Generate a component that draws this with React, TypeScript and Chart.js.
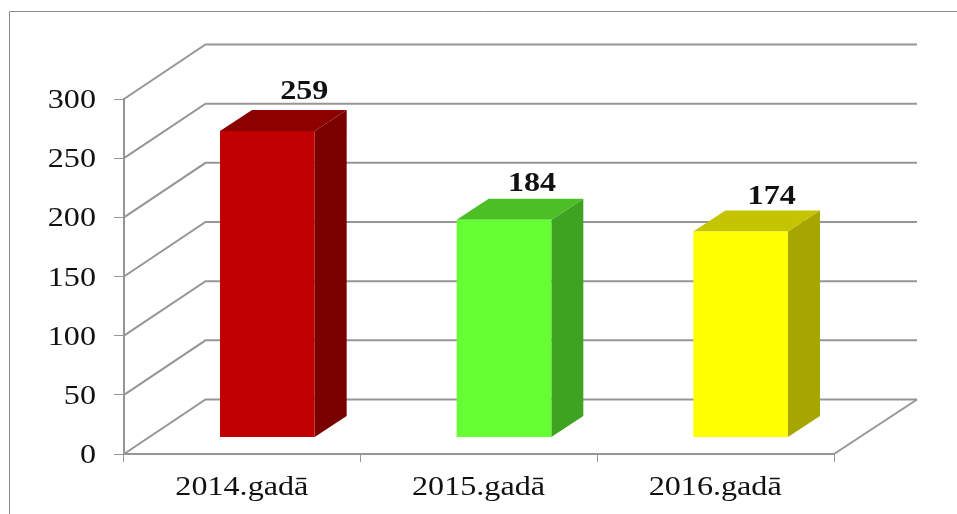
import React, { useEffect, useRef } from "react";
import { Chart, registerables } from "chart.js";

Chart.register(...registerables);

const categories = ["2014.gadā", "2015.gadā", "2016.gadā"];
const values = [259, 184, 174];
const frontColors = ["#C00000", "#66FF33", "#FFFF00"];
const topColors = ["#8C0000", "#4CBE26", "#C4C400"];
const sideColors = ["#7A0000", "#3FA322", "#A6A600"];
const labelNudgeX = [37, 28, 31];
const labelNudgeY = [-32, -29, -28];

const GRID = "#969696";
const FONT = "'Liberation Serif'";
const STRETCH = 1.19;
const WALL_DX = 81.5;
const WALL_DY = 54.5;
const BAR_DX = 25;
const BAR_DY = 16.5;
const DEPTH_X = 32;
const DEPTH_Y = 21;

function stretchedText(ctx: CanvasRenderingContext2D, text: string, x: number, y: number, align: CanvasTextAlign, font: string) {
  ctx.save();
  ctx.translate(x, y);
  ctx.scale(STRETCH, 1);
  ctx.font = font;
  ctx.fillStyle = "#111111";
  ctx.textAlign = align;
  ctx.textBaseline = "alphabetic";
  ctx.fillText(text, 0, 0);
  ctx.restore();
}

function poly(ctx: CanvasRenderingContext2D, pts: number[][], fill: string) {
  ctx.beginPath();
  pts.forEach((p, i) => (i ? ctx.lineTo(p[0], p[1]) : ctx.moveTo(p[0], p[1])));
  ctx.closePath();
  ctx.fillStyle = fill;
  ctx.fill();
}

const box3d = {
  id: "box3d",
  beforeDraw(chart: any) {
    const ctx = chart.ctx as CanvasRenderingContext2D;
    ctx.save();
    ctx.strokeStyle = "#8C8C8C";
    ctx.lineWidth = 1;
    ctx.beginPath();
    ctx.moveTo(9.5, chart.height);
    ctx.lineTo(9.5, 11.5);
    ctx.lineTo(chart.width, 11.5);
    ctx.stroke();
    ctx.restore();
  },
  beforeDatasetsDraw(chart: any) {
    const ctx = chart.ctx as CanvasRenderingContext2D;
    const { left, right, bottom } = chart.chartArea;
    const y = chart.scales.y;
    ctx.save();
    ctx.strokeStyle = GRID;
    ctx.lineWidth = 2;
    for (const t of y.ticks) {
      const py = y.getPixelForValue(t.value);
      ctx.beginPath();
      ctx.moveTo(left, py);
      ctx.lineTo(left + WALL_DX, py - WALL_DY);
      ctx.lineTo(right + WALL_DX + 1.5, py - WALL_DY);
      ctx.stroke();
    }
    ctx.beginPath();
    ctx.moveTo(right, bottom);
    ctx.lineTo(right + WALL_DX + 1.5, bottom - WALL_DY);
    ctx.stroke();
    ctx.restore();

    ctx.save();
    ctx.translate(BAR_DX, -BAR_DY);
    chart.getDatasetMeta(0).data.forEach((bar: any, i: number) => {
      const l = bar.x - bar.width / 2;
      const r = bar.x + bar.width / 2;
      const t = bar.y;
      const b = bar.base;
      poly(ctx, [[r, t], [r + DEPTH_X, t - DEPTH_Y], [r + DEPTH_X, b - DEPTH_Y], [r, b]], sideColors[i]);
      poly(ctx, [[l, t], [l + DEPTH_X, t - DEPTH_Y], [r + DEPTH_X, t - DEPTH_Y], [r, t]], topColors[i]);
    });
  },
  afterDatasetsDraw(chart: any) {
    const ctx = chart.ctx as CanvasRenderingContext2D;
    ctx.restore();
    const fontN = `27px ${FONT}`;
    const fontB = `bold 27px ${FONT}`;
    const y = chart.scales.y;
    const x = chart.scales.x;
    for (const t of y.ticks) {
      stretchedText(ctx, String(t.value), 96, y.getPixelForValue(t.value) + 9, "right", fontN);
    }
    categories.forEach((c, i) => {
      stretchedText(ctx, c, x.getPixelForValue(i) - 0.5, 495, "center", fontN);
    });
    chart.getDatasetMeta(0).data.forEach((bar: any, i: number) => {
      stretchedText(ctx, String(values[i]), bar.x + BAR_DX + labelNudgeX[i], bar.y - BAR_DY + labelNudgeY[i], "center", fontB);
    });
  },
};

export default function App() {
  const ref = useRef<HTMLCanvasElement>(null);
  useEffect(() => {
    const chart = new Chart(ref.current!, {
      type: "bar",
      data: {
        labels: categories,
        datasets: [{
          data: values,
          backgroundColor: frontColors,
          borderWidth: 0,
          barPercentage: 0.4,
          categoryPercentage: 1,
        }],
      },
      options: {
        animation: false,
        responsive: false,
        layout: { padding: { top: 99, right: 123, left: 0, bottom: 0 } },
        plugins: { legend: { display: false }, tooltip: { enabled: false } },
        scales: {
          x: {
            afterFit: (s: any) => { s.height = 60; },
            grid: { drawOnChartArea: false, drawTicks: true, tickLength: 8, color: GRID, lineWidth: 1 },
            border: { color: GRID, width: 2 },
            ticks: { display: false },
          },
          y: {
            min: 0,
            max: 300,
            afterFit: (s: any) => { s.width = 124; },
            grid: { drawOnChartArea: false, drawTicks: true, tickLength: 10, color: GRID, lineWidth: 1 },
            border: { color: GRID, width: 2 },
            ticks: { display: false, stepSize: 50 },
          },
        },
      },
      plugins: [box3d],
    } as any);
    return () => chart.destroy();
  }, []);
  return (
    <div style={{ position: "fixed", left: 0, top: 0, width: 957, height: 514, background: "#fff" }}>
      <canvas ref={ref} width={957} height={514} style={{ display: "block" }} />
    </div>
  );
}
